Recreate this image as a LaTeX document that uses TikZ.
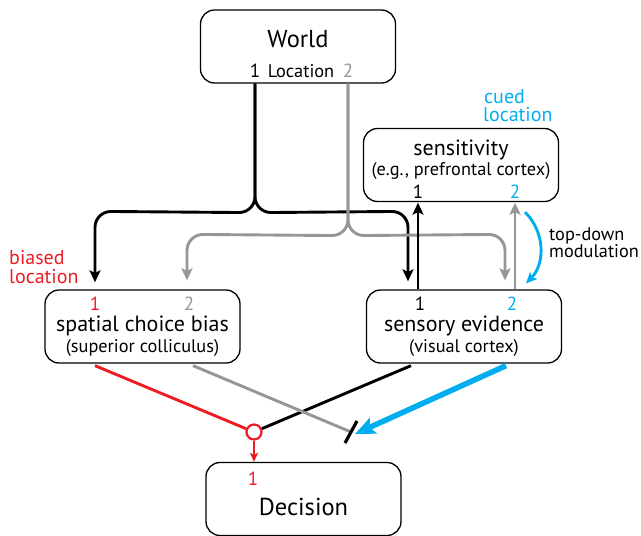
\documentclass[tikz,border=0pt]{standalone}
\usepackage{fontspec}
\setmainfont{PT Sans}
\usetikzlibrary{arrows.meta,calc}
\definecolor{cred}{RGB}{237,28,36}
\definecolor{cblue}{RGB}{0,174,239}
\definecolor{cgray}{RGB}{150,150,150}
\begin{document}
\begin{tikzpicture}[x=1pt,y=-1pt,
  box/.style={draw, rounded corners=14pt, line width=1.3pt, minimum width=195pt, minimum height=73pt, inner sep=0pt},
  lbl/.style={inner sep=0pt, anchor=base},
  conn/.style={line width=2.9pt, rounded corners=16pt},
  tipk/.style={-{Stealth[length=12pt,width=11pt,inset=2.5pt]}},
  huge/.style={font=\fontsize{24.5}{26}\selectfont},
  big/.style={font=\fontsize{22}{24}\selectfont},
  mid/.style={font=\fontsize{19}{21}\selectfont},
  lab/.style={font=\fontsize{20}{22}\selectfont},
  sml/.style={font=\fontsize{18.3}{20}\selectfont},
]
\useasboundingbox (0,0) rectangle (641,536);

% boxes
\node[box] (world) at (298,46.5) {};
\node[box] (sens) at (461,165) {};
\node[box] (scb) at (142.5,326.5) {};
\node[box] (sev) at (464,326.5) {};
\node[box] (dec) at (303.5,499) {};

% texts
\node[lbl,huge] (tw) at (298,47) {World};
\node[lbl,mid] (tw1) at (255,77) {1};
\node[lbl,sml] (twl) at (301,77) {Location};
\node[lbl,mid,text=cgray] (tw2) at (348,77) {2};

\node[lbl,big] (ts) at (461,155) {sensitivity};
\node[lbl,sml] (ts2) at (461,175) {(e.g., prefrontal cortex)};
\node[lbl,mid] (ts1n) at (418,198) {1};
\node[lbl,mid,text=cblue] (ts2n) at (515,198) {2};

\node[lbl,mid,text=cred] (tb1) at (95,310) {1};
\node[lbl,mid,text=cgray] (tb2) at (189,310) {2};
\node[lbl,big] (tb) at (142.5,331) {spatial choice bias};
\node[lbl,sml] (tbs) at (142.5,352) {(superior colliculus)};

\node[lbl,mid] (te1) at (420,310) {1};
\node[lbl,mid,text=cblue] (te2) at (512,310) {2};
\node[lbl,big] (te) at (464,331) {sensory evidence};
\node[lbl,sml] (tes) at (464,352) {(visual cortex)};

\node[lbl,mid,text=cred] (td1) at (253,485) {1};
\node[lbl,huge] (td) at (303.5,515) {Decision};

\node[lbl,lab,text=cred,anchor=base west] (bl1) at (9,264.5) {biased};
\node[lbl,lab,text=cred,anchor=base west] (bl2) at (9,283) {location};
\node[lbl,lab,text=cblue,anchor=base west] (cl1) at (484,103) {cued};
\node[lbl,lab,text=cblue,anchor=base west] (cl2) at (483,121.5) {location};
\node[lbl,sml,anchor=base west] (tdm1) at (549,240) {top-down};
\node[lbl,sml,anchor=base west] (tdm2) at (549,257) {modulation};

% port coordinates
\coordinate (wa) at ($(world.south)+(-43,0)$);
\coordinate (wb) at ($(world.south)+(50,0)$);
\coordinate (sa) at ($(scb.north)+(-47.5,0)$);
\coordinate (sb) at ($(scb.north)+(44.5,0)$);
\coordinate (ea) at ($(sev.north)+(-56,0)$);
\coordinate (eb) at ($(sev.north)+(41,0)$);
\coordinate (eu1) at ($(sev.north)+(-46,0)$);
\coordinate (eu2) at ($(sev.north)+(51,0)$);
\coordinate (su1) at ($(sens.south)+(-43,0)$);
\coordinate (su2) at ($(sens.south)+(54,0)$);

% world to boxes
\draw[conn,tipk,shorten >=7pt] (wa) -- ($(wa)+(0,129)$) -- ($(sa)+(0,-78)$) -- (sa);
\draw[conn,tipk,shorten >=8pt] (wa) -- ($(wa)+(0,129)$) -- ($(ea)+(0,-78)$) -- (ea);
\draw[conn,cgray,tipk,shorten >=9pt] (wb) -- ($(wb)+(0,152)$) -- ($(sb)+(0,-55)$) -- (sb);
\draw[conn,cgray,tipk,shorten >=9pt] (wb) -- ($(wb)+(0,152)$) -- ($(eb)+(0,-55)$) -- (eb);

% up arrows
\draw[conn,tipk,shorten >=0.5pt] (eu1) -- (su1);
\draw[conn,cgray,tipk,shorten >=0.5pt] (eu2) -- (su2);

% top-down modulation
\coordinate (tdA) at ($(sens.south)+(64,10)$);
\coordinate (tdB) at ($(sev.north)+(62,-6)$);
\draw[line width=2.9pt,cblue,-{Stealth[length=11pt,width=10pt,inset=2.5pt]}] (tdA) to[bend left=45] (tdB);

% bottom
\node[circle, draw=cred, fill=white, line width=2.2pt, minimum size=15pt, inner sep=0pt] (junc) at (254,432) {};
\coordinate (bar) at (351,432);
\coordinate (ra) at ($(scb.south)+(-47.5,2)$);
\coordinate (ga) at ($(scb.south)+(50.5,2)$);
\coordinate (ka) at ($(sev.south)+(-53,2)$);
\coordinate (ba) at ($(sev.south)+(42,2)$);
\coordinate (bt) at (355,434);

\draw[line width=2.9pt,cred] (ra) -- (junc);
\draw[line width=2.9pt] (ka) -- (junc);
\draw[line width=2.9pt,cgray] (ga) -- (bar);
\draw[line width=3.2pt] ($(bar)+(-6,11)$) -- ($(bar)+(6,-11)$);
\draw[line width=5.5pt,cblue,-{Stealth[length=20pt,width=17pt,inset=4pt]}] (ba) -- (bt);
\draw[line width=2.2pt,cred,-{Stealth[length=9pt,width=8pt,inset=2pt]}] (junc.south) -- (junc.south |- dec.north);
\end{tikzpicture}
\end{document}
